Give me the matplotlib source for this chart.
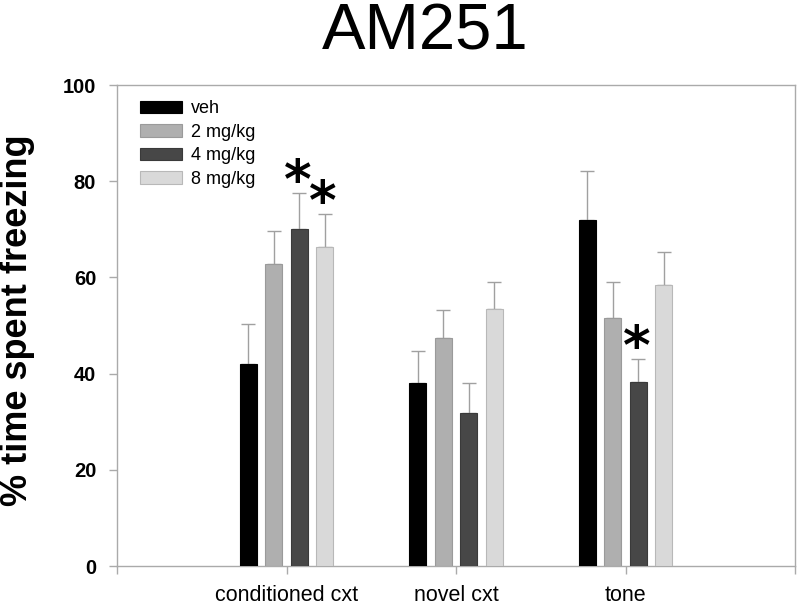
import numpy as np
import matplotlib
matplotlib.use('Agg')
import matplotlib.pyplot as plt

plt.rcParams['font.family'] = ['Liberation Sans', 'DejaVu Sans']

# data
categories = ['conditioned cxt', 'novel cxt', 'tone']
groups = ['veh', '2 mg/kg', '4 mg/kg', '8 mg/kg']
veh = [42.1, 38.0, 71.9]
mg2 = [62.8, 47.5, 51.6]
mg4 = [70.1, 31.9, 38.3]
mg8 = [66.4, 53.4, 58.4]
veh_err = [8.3, 6.8, 10.2]
mg2_err = [6.8, 5.7, 7.4]
mg4_err = [7.4, 6.1, 4.7]
mg8_err = [6.8, 5.6, 6.8]
# significant bars: (category index, group index)
stars = [(0, 2), (0, 3), (2, 2)]

means = [veh, mg2, mg4, mg8]
errs = [veh_err, mg2_err, mg4_err, mg8_err]
colors = ['#000000', '#afafaf', '#474747', '#d9d9d9']
edges = ['#000000', '#9a9a9a', '#3a3a3a', '#b8b8b8']
offsets = [-0.225, -0.075, 0.075, 0.225]
width = 0.1

fig = plt.figure(figsize=(8, 6.06), dpi=100)
ax = fig.add_axes([0.14625, 0.0660, 0.8475, 0.7937])

x = np.arange(len(categories))
for i in range(len(groups)):
    ax.bar(x + offsets[i], means[i], width, color=colors[i], edgecolor=edges[i],
           linewidth=0.8, label=groups[i], zorder=3)
    ax.errorbar(x + offsets[i], means[i], yerr=[np.zeros(len(x)), errs[i]],
                fmt='none', ecolor='#a0a0a0', elinewidth=1, capsize=4.7,
                capthick=1, zorder=2)

for c, g in stars:
    top = means[g][c] + errs[g][c]
    ax.text(c + offsets[g] - 0.01, top - 3.3, '*', ha='center', va='bottom',
            fontsize=38, fontweight='bold', family='DejaVu Sans')

ax.set_xlim(-1, 3)
ax.set_ylim(0, 100)
ax.set_xticks([-1, 0, 1, 2, 3])
ax.set_xticklabels([''] + categories + [''], fontsize=15.5)
ax.set_yticks([0, 20, 40, 60, 80, 100])
ax.set_yticklabels(['0', '20', '40', '60', '80', '100'], fontsize=14.5,
                   fontweight='bold')
ax.tick_params(axis='both', color='#aaaaaa', length=6, width=1, direction='out')
ax.tick_params(axis='y', pad=9)
ax.tick_params(axis='x', pad=8)
for s in ax.spines.values():
    s.set_color('#aaaaaa')
    s.set_linewidth(1)

ax.legend(loc='upper left', bbox_to_anchor=(0.034, 0.968), frameon=False,
          fontsize=13, handlelength=2.3, handleheight=0.7, labelspacing=0.36,
          handletextpad=0.5, borderpad=0, borderaxespad=0)

fig.text(425 / 800, 1 - 32 / 606, 'AM251', ha='center', va='center', fontsize=47)
fig.text(18 / 800, 1 - 320 / 606, '% time spent freezing', ha='center',
         va='center', rotation=90, fontsize=26, fontweight='bold')

fig.savefig('out.png', dpi=100)
